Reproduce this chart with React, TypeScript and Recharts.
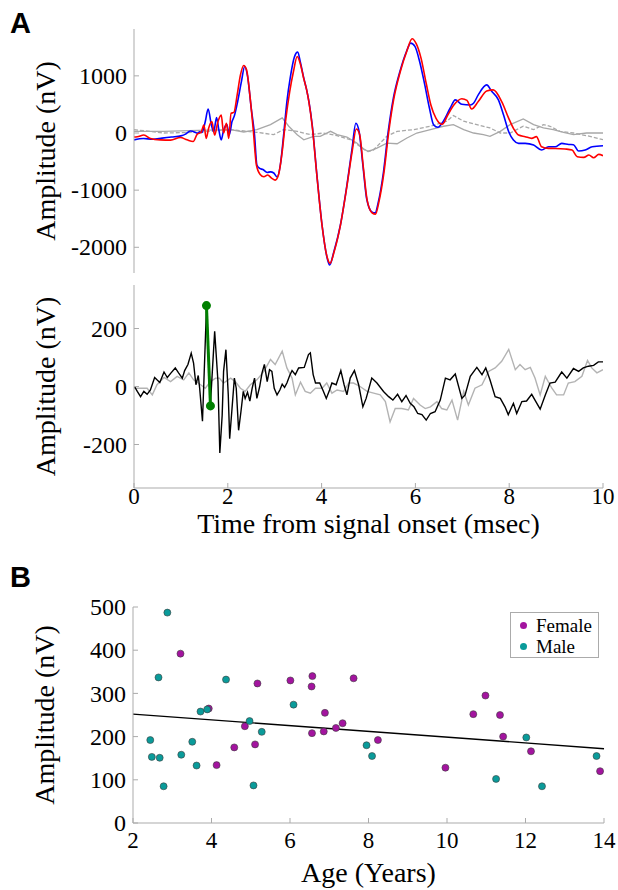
import {
  LineChart,
  Line,
  XAxis,
  YAxis,
  Label,
  ComposedChart,
  Scatter,
  ReferenceLine,
  Legend,
} from "recharts";

/* ---------- PANEL A (top): averaged responses ---------- */
const blueT = [0, 0.2, 0.4, 0.6, 0.8, 1.0, 1.1, 1.2, 1.3, 1.35, 1.4, 1.45, 1.52, 1.58, 1.65, 1.7, 1.76, 1.81, 1.86, 1.91, 1.98, 2.03, 2.09, 2.14, 2.21, 2.29, 2.36, 2.42, 2.5, 2.57, 2.62, 2.68, 2.75, 2.84, 2.91, 2.98, 3.05, 3.12, 3.19, 3.26, 3.33, 3.42, 3.49, 3.55, 3.62, 3.68, 3.73, 3.8, 3.9, 4.01, 4.12, 4.17, 4.26, 4.4, 4.54, 4.65, 4.73, 4.8, 4.88, 4.96, 5.07, 5.14, 5.21, 5.32, 5.42, 5.53, 5.67, 5.81, 5.9, 5.99, 6.09, 6.2, 6.3, 6.39, 6.48, 6.59, 6.74, 6.85, 6.99, 7.17, 7.24, 7.34, 7.52, 7.63, 7.77, 7.88, 7.99, 8.09, 8.2, 8.34, 8.52, 8.69, 8.84, 8.98, 9.12, 9.27, 9.37, 9.48, 9.62, 9.77, 10.0];
const blueV = [-120, -95, -110, -90, -70, -50, -20, 35, 15, -5, 20, 10, 200, 420, 140, 20, 270, 50, -120, 50, 150, -35, 200, 300, 550, 900, 1165, 1000, 430, -35, -560, -620, -640, -690, -680, -700, -770, -560, -35, 550, 960, 1330, 1416, 1230, 960, 760, 550, 140, -737, -1614, -2193, -2310, -2082, -1614, -912, -269, 170, 23, -561, -1146, -1380, -1398, -1205, -678, 23, 608, 1076, 1427, 1573, 1515, 1251, 842, 433, 140, 100, 199, 433, 580, 503, 490, 520, 667, 842, 725, 580, 315, 23, -123, -181, -181, -210, -298, -240, -240, -181, -200, -205, -316, -298, -240, -222];

const redT = [0, 0.07, 0.21, 0.35, 0.56, 0.78, 0.99, 1.13, 1.26, 1.35, 1.43, 1.49, 1.54, 1.59, 1.66, 1.72, 1.79, 1.86, 1.91, 1.97, 2.02, 2.07, 2.13, 2.2, 2.27, 2.34, 2.4, 2.47, 2.54, 2.61, 2.69, 2.77, 2.85, 2.94, 3.01, 3.08, 3.16, 3.23, 3.32, 3.4, 3.48, 3.55, 3.62, 3.68, 3.73, 3.8, 3.9, 4.01, 4.12, 4.18, 4.27, 4.4, 4.54, 4.65, 4.74, 4.81, 4.89, 4.97, 5.08, 5.15, 5.22, 5.33, 5.43, 5.54, 5.68, 5.82, 5.93, 6.02, 6.12, 6.23, 6.33, 6.44, 6.57, 6.69, 6.82, 6.99, 7.1, 7.2, 7.34, 7.52, 7.66, 7.84, 7.99, 8.09, 8.2, 8.34, 8.48, 8.58, 8.69, 8.84, 8.98, 9.19, 9.34, 9.45, 9.59, 9.7, 9.8, 9.91, 10.0];
const redV = [-70, -65, -35, -95, -120, -125, -80, -120, -150, -20, 10, 140, -95, 80, 200, -35, 200, 315, 0, 170, -95, 345, 360, 667, 1018, 1181, 1105, 667, 80, -560, -725, -765, -735, -795, -825, -735, -327, 200, 725, 1076, 1340, 1200, 950, 760, 540, 120, -750, -1620, -2180, -2280, -2070, -1620, -930, -330, 70, -20, -600, -1170, -1400, -1420, -1215, -690, 10, 600, 1080, 1440, 1650, 1560, 1310, 870, 490, 257, 152, 315, 490, 600, 570, 420, 550, 735, 755, 550, 257, 82, -35, -64, -94, -64, -240, -269, -270, -280, -298, -415, -427, -386, -433, -374, -398];

const graySolidT = [0, 0.64, 1.35, 2.06, 2.34, 2.62, 2.91, 3.16, 3.3, 3.48, 3.62, 3.83, 3.97, 4.19, 4.33, 4.54, 4.75, 4.9, 5.0, 5.18, 5.39, 5.61, 5.82, 6.03, 6.32, 6.6, 6.81, 7.03, 7.24, 7.45, 7.59, 7.81, 8.02, 8.3, 8.52, 8.73, 8.94, 9.16, 9.37, 9.65, 10.0];
const graySolidV = [30, 30, 47, 59, 18, 59, 147, 265, 118, -29, -118, -59, -59, 29, -29, -70, -176, -282, -323, -265, -176, -188, -88, 0, 59, 118, 147, 59, 0, -29, -59, 29, 147, 247, 147, 88, 59, 12, -29, 0, 0];

const grayDashT = [0, 0.64, 1.35, 2.06, 2.62, 2.98, 3.19, 3.48, 3.76, 4.04, 4.33, 4.61, 4.82, 4.97, 5.11, 5.39, 5.61, 5.96, 6.32, 6.67, 6.81, 7.03, 7.31, 7.59, 7.81, 8.02, 8.3, 8.52, 8.73, 8.87, 9.08, 9.37, 9.72, 10.0];
const grayDashV = [59, 0, 12, 59, 12, -29, 59, 29, -29, 0, -47, -118, -235, -323, -294, -59, 29, 59, 118, 206, 306, 206, 147, 88, 0, 0, 118, 59, 147, 118, 29, 0, -59, -118];

/* ---------- PANEL A (bottom): single response ---------- */
const blackT = [0.01, 0.07, 0.14, 0.21, 0.28, 0.35, 0.44, 0.49, 0.55, 0.64, 0.71, 0.79, 0.88, 0.95, 1.03, 1.08, 1.15, 1.22, 1.27, 1.32, 1.37, 1.4, 1.46, 1.545, 1.63, 1.72, 1.79, 1.83, 1.88, 1.91, 1.96, 2.01, 2.04, 2.09, 2.14, 2.18, 2.23, 2.28, 2.33, 2.37, 2.42, 2.47, 2.52, 2.57, 2.62, 2.68, 2.73, 2.78, 2.84, 2.89, 2.94, 2.99, 3.05, 3.11, 3.16, 3.21, 3.26, 3.32, 3.37, 3.44, 3.51, 3.63, 3.72, 3.76, 3.82, 3.87, 3.96, 4.04, 4.1, 4.17, 4.22, 4.31, 4.41, 4.48, 4.54, 4.61, 4.7, 4.79, 4.88, 4.95, 5.07, 5.18, 5.32, 5.43, 5.52, 5.62, 5.71, 5.8, 5.89, 5.97, 6.05, 6.14, 6.23, 6.32, 6.42, 6.53, 6.64, 6.74, 6.85, 6.99, 7.06, 7.17, 7.31, 7.42, 7.5, 7.59, 7.7, 7.81, 7.91, 7.98, 8.09, 8.16, 8.27, 8.37, 8.48, 8.55, 8.66, 8.77, 8.87, 8.98, 9.12, 9.23, 9.37, 9.48, 9.58, 9.69, 9.8, 9.9, 10.0];
const blackV = [0, -17, -35, -17, -27, -12, 31, 23, 14, 50, 31, 47, 64, 47, 29, 55, 76, 115, 81, 6, 38, -6, -120, 270, -60, 190, 17, -229, -99, 52, 127, -29, -180, -76, 29, -6, -151, -87, -17, -41, -20, -50, -6, 29, -41, 0, 47, 76, 17, 58, 52, -6, -29, -12, 8, -3, 12, 38, 55, 41, 64, 66, 110, 116, 41, 12, 12, -17, -41, -12, 12, 6, 55, 6, -29, 29, 55, 6, -70, -41, 29, 12, -17, -35, -47, -27, -52, -31, -58, -70, -93, -97, -116, -93, -87, -47, 29, 23, 43, -41, -29, 35, 66, 41, 64, 23, -35, -41, -70, -97, -58, -93, -52, -50, -27, -47, -78, -29, 12, 15, 50, 29, 62, 52, 64, 70, 73, 85, 85];

const lightT = [0, 0.14, 0.28, 0.39, 0.49, 0.64, 0.78, 0.92, 1.06, 1.17, 1.27, 1.42, 1.52, 1.63, 1.74, 1.82, 1.91, 2.06, 2.16, 2.27, 2.37, 2.48, 2.62, 2.77, 2.91, 3.01, 3.16, 3.26, 3.37, 3.44, 3.55, 3.65, 3.76, 3.87, 4.01, 4.11, 4.22, 4.33, 4.47, 4.58, 4.68, 4.82, 4.97, 5.11, 5.25, 5.36, 5.46, 5.57, 5.71, 5.85, 5.96, 6.1, 6.21, 6.32, 6.46, 6.56, 6.67, 6.78, 6.9, 7.03, 7.13, 7.27, 7.42, 7.56, 7.7, 7.84, 7.99, 8.13, 8.23, 8.34, 8.45, 8.55, 8.66, 8.77, 8.91, 9.01, 9.16, 9.26, 9.4, 9.55, 9.67, 9.76, 9.87, 10.0];
const lightV = [-6, -6, -6, -29, 6, 31, 17, 35, 23, 47, 23, 6, -6, 17, 29, 29, 12, 29, 17, -6, -17, 6, 23, 52, 93, 76, 122, 64, 29, -29, 15, -17, -23, -6, -6, 12, -23, -12, -17, 12, 12, 0, -17, -23, -29, -52, -122, -76, -76, -81, -41, -64, -76, -70, -52, -76, -81, -47, -116, -17, -64, -6, 6, 52, 64, 87, 128, 58, 76, 58, 66, 29, -29, 35, -6, -29, -29, 12, 17, 35, 90, 64, 47, 58];

const greenT = [1.545, 1.63];
const greenV = [279, -67];

/* ---------- PANEL B: amplitude vs age ---------- */
const femaleAge = [3.21, 3.93, 4.13, 4.58, 4.85, 5.11, 5.17, 6.01, 6.55, 6.57, 6.56, 6.89, 6.86, 7.17, 7.34, 7.62, 8.24, 9.96, 10.67, 10.98, 11.35, 11.43, 12.14, 13.9];
const femaleAmp = [392, 265, 134, 175, 224, 182, 323, 330, 316, 340, 208, 255, 212, 220, 231, 335, 192, 128, 252, 295, 250, 200, 166, 120];
const maleAge = [2.875, 2.65, 2.44, 2.48, 2.68, 2.78, 3.23, 3.51, 3.62, 3.72, 3.89, 4.37, 4.97, 5.28, 5.07, 6.09, 7.95, 8.09, 11.25, 12.02, 12.42, 13.81];
const maleAmp = [487, 337, 192, 153, 151, 85, 158, 188, 133, 258, 263, 332, 236, 211, 87, 274, 180, 155, 102, 198, 85, 155];
const fitAge = [2, 14];
const fitAmp = [252, 172];

/* ---------- STYLE ---------- */
const SERIF = '"Liberation Serif", "Times New Roman", serif';
const BOX = "#ababab";
const PURPLE = "#a3149f";
const TEAL = "#0a9b9a";
const LABEL = { fontSize: 28, fontFamily: SERIF, fill: "#000" };

const zipTV = (t: number[], v: number[]) => t.map((x, i) => ({ t: x, v: v[i] }));
const zipXY = (x: number[], y: number[]) => x.map((a, i) => ({ x: a, y: y[i] }));

/* ---------- TICKS ---------- */
function XTick({ x, y, payload }: any) {
  return (
    <text x={x} y={y} dy="0.71em" textAnchor="middle" fontFamily={SERIF} fontSize={23} fill="#000">
      {payload.value}
    </text>
  );
}

function YTick({ x, y, payload }: any) {
  return (
    <text x={x} y={y} dy="0.34em" textAnchor="end" fontFamily={SERIF} fontSize={24} fill="#000">
      {payload.value}
    </text>
  );
}

function Dot(props: any) {
  const { cx, cy, fill } = props;
  if (cx == null || cy == null) return null;
  return <circle cx={cx} cy={cy} r={3.5} fill={fill} stroke="#3c3c3c" strokeWidth={0.6} />;
}

function LegendBox({ payload }: any) {
  return (
    <div
      style={{
        boxSizing: "border-box",
        width: 89,
        height: 46,
        border: `1px solid ${BOX}`,
        background: "#fff",
        padding: "2px 0 0 9px",
        fontFamily: SERIF,
        fontSize: 19,
        lineHeight: "21px",
        color: "#000",
      }}
    >
      {(payload || []).map((p: any) => (
        <div key={p.value} style={{ display: "flex", alignItems: "center", height: 21 }}>
          <span
            style={{
              width: 7,
              height: 7,
              borderRadius: "50%",
              background: p.color,
              marginRight: 9,
            }}
          />
          {p.value}
        </div>
      ))}
    </div>
  );
}

function PanelLetter({ text, top }: { text: string; top: number }) {
  return (
    <div
      style={{
        position: "absolute",
        left: 10,
        top,
        fontFamily: '"Liberation Sans", Arial, sans-serif',
        fontWeight: 700,
        fontSize: 29,
        lineHeight: 1,
      }}
    >
      {text}
    </div>
  );
}

export default function App() {
  const timeTicks = [0, 2, 4, 6, 8, 10];
  const ampLabel = (
    <Label
      value="Amplitude (nV)"
      angle={-90}
      position="insideLeft"
      offset={25}
      style={{ textAnchor: "middle" }}
      {...LABEL}
    />
  );

  return (
    <div
      style={{
        position: "absolute",
        left: 0,
        top: 0,
        width: 618,
        height: 890,
        background: "#fff",
        fontFamily: SERIF,
      }}
    >
      <PanelLetter text="A" top={9} />
      <PanelLetter text="B" top={563} />

      {/* top panel */}
      <div style={{ position: "absolute", left: 0, top: 0 }}>
        <LineChart width={618} height={280} margin={{ top: 29, right: 15, bottom: 7, left: 20 }}>
          <XAxis xAxisId="b" type="number" dataKey="t" domain={[0, 10]} allowDataOverflow ticks={timeTicks} height={0} tick={false} tickLine={false} stroke={BOX} />
          <XAxis xAxisId="t" orientation="top" type="number" dataKey="t" domain={[0, 10]} allowDataOverflow ticks={timeTicks} height={0} tick={false} tickLine={false} stroke={BOX} />
          <YAxis yAxisId="l" type="number" domain={[-2450, 1820]} allowDataOverflow ticks={[-2000, -1000, 0, 1000]} width={114} tickSize={-5} tickMargin={12} tick={<YTick />} stroke={BOX}>
            {ampLabel}
          </YAxis>
          <YAxis yAxisId="r" orientation="right" type="number" domain={[-2450, 1820]} allowDataOverflow ticks={[-2000, -1000, 0, 1000]} width={0} tickSize={-5} tick={false} stroke={BOX} />
          <Line xAxisId="b" yAxisId="l" data={zipTV(grayDashT, grayDashV)} dataKey="v" type="linear" stroke="#a8a8a8" strokeWidth={1.3} strokeDasharray="4 2" dot={false} isAnimationActive={false} />
          <Line xAxisId="b" yAxisId="l" data={zipTV(graySolidT, graySolidV)} dataKey="v" type="linear" stroke="#a8a8a8" strokeWidth={1.3} dot={false} isAnimationActive={false} />
          <Line xAxisId="b" yAxisId="l" data={zipTV(blueT, blueV)} dataKey="v" type="monotone" stroke="#0000ff" strokeWidth={1.6} dot={false} isAnimationActive={false} />
          <Line xAxisId="b" yAxisId="l" data={zipTV(redT, redV)} dataKey="v" type="monotone" stroke="#ff0000" strokeWidth={1.6} dot={false} isAnimationActive={false} />
        </LineChart>
      </div>

      {/* middle panel */}
      <div style={{ position: "absolute", left: 0, top: 280 }}>
        <LineChart width={618} height={265} margin={{ top: 5, right: 15, bottom: 0, left: 20 }}>
          <XAxis xAxisId="b" type="number" dataKey="t" domain={[0, 10]} allowDataOverflow ticks={timeTicks} height={57} tickSize={-5} tickMargin={5} tick={<XTick />} stroke={BOX}>
            <Label value="Time from signal onset (msec)" position="insideBottom" offset={12} {...LABEL} />
          </XAxis>
          <XAxis xAxisId="t" orientation="top" type="number" dataKey="t" domain={[0, 10]} allowDataOverflow ticks={timeTicks} height={0} tickSize={-5} tick={false} stroke={BOX} />
          <YAxis yAxisId="l" type="number" domain={[-350, 350]} allowDataOverflow ticks={[-200, 0, 200]} width={114} tickSize={-5} tickMargin={12} tick={<YTick />} stroke={BOX}>
            {ampLabel}
          </YAxis>
          <YAxis yAxisId="r" orientation="right" type="number" domain={[-350, 350]} allowDataOverflow ticks={[-200, 0, 200]} width={0} tickSize={-5} tick={false} stroke={BOX} />
          <Line xAxisId="b" yAxisId="l" data={zipTV(lightT, lightV)} dataKey="v" type="linear" stroke="#b3b3b3" strokeWidth={1.4} dot={false} isAnimationActive={false} />
          <Line xAxisId="b" yAxisId="l" data={zipTV(blackT, blackV)} dataKey="v" type="linear" stroke="#000" strokeWidth={1.4} dot={false} isAnimationActive={false} />
          <Line xAxisId="b" yAxisId="l" data={zipTV(greenT, greenV)} dataKey="v" type="linear" stroke="#008000" strokeWidth={3} dot={{ r: 3, fill: "#008000", stroke: "#008000" }} isAnimationActive={false} />
        </LineChart>
      </div>

      {/* panel B */}
      <div style={{ position: "absolute", left: 0, top: 590 }}>
        <ComposedChart width={618} height={300} margin={{ top: 17, right: 14, bottom: 0, left: 19 }}>
          <XAxis xAxisId="b" type="number" dataKey="x" domain={[2, 14]} allowDataOverflow ticks={[2, 4, 6, 8, 10, 12, 14]} height={67} tickSize={-5} tickMargin={14} tick={<XTick />} stroke={BOX}>
            <Label value="Age (Years)" position="insideBottom" offset={8} {...LABEL} />
          </XAxis>
          <XAxis xAxisId="t" orientation="top" type="number" dataKey="x" domain={[2, 14]} allowDataOverflow ticks={[2, 4, 6, 8, 10, 12, 14]} height={0} tickSize={-5} tick={false} stroke={BOX} />
          <YAxis yAxisId="l" type="number" dataKey="y" domain={[0, 500]} allowDataOverflow ticks={[0, 100, 200, 300, 400, 500]} width={114} tickSize={-5} tickMargin={12} tick={<YTick />} stroke={BOX}>
            {ampLabel}
          </YAxis>
          <YAxis yAxisId="r" orientation="right" type="number" dataKey="y" domain={[0, 500]} allowDataOverflow ticks={[0, 100, 200, 300, 400, 500]} width={0} tickSize={-5} tick={false} stroke={BOX} />
          <ReferenceLine
            xAxisId="b"
            yAxisId="l"
            segment={[
              { x: fitAge[0], y: fitAmp[0] },
              { x: fitAge[1], y: fitAmp[1] },
            ]}
            stroke="#000"
            strokeWidth={1.4}
          />
          <Scatter xAxisId="b" yAxisId="l" name="Female" data={zipXY(femaleAge, femaleAmp)} fill={PURPLE} shape={<Dot />} isAnimationActive={false} />
          <Scatter xAxisId="b" yAxisId="l" name="Male" data={zipXY(maleAge, maleAmp)} fill={TEAL} shape={<Dot />} isAnimationActive={false} />
          <Legend
            layout="vertical"
            align="center"
            verticalAlign="middle"
            content={(props: any) => <LegendBox {...props} />}
            wrapperStyle={{ left: 510, top: 22, width: 89 }}
          />
        </ComposedChart>
      </div>
    </div>
  );
}
